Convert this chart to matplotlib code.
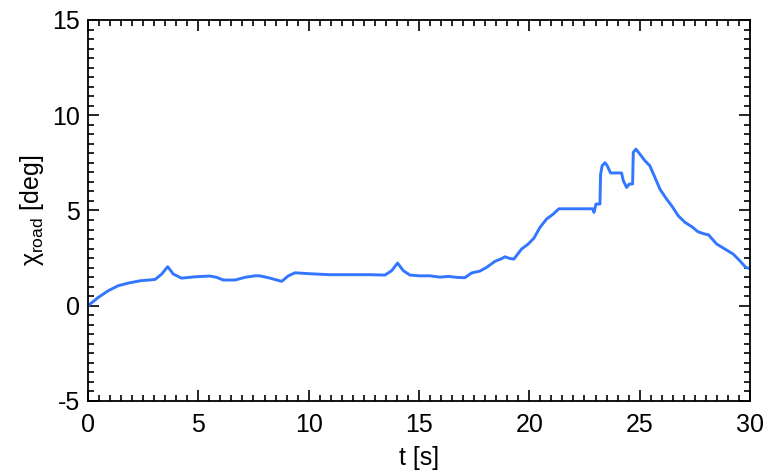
import matplotlib
matplotlib.use('Agg')
import matplotlib.pyplot as plt
from matplotlib.ticker import MultipleLocator

plt.rcParams['font.family'] = ['Liberation Sans', 'DejaVu Sans']
plt.rcParams['mathtext.fontset'] = 'custom'
plt.rcParams['mathtext.rm'] = 'Liberation Sans'
plt.rcParams['mathtext.it'] = 'Liberation Sans'
plt.rcParams['axes.unicode_minus'] = False

# time [s] and road angle [deg]
t = [0.0, 0.47, 0.92, 1.37, 1.83, 2.36, 3.04, 3.34, 3.61, 3.87, 4.24, 4.85,
     5.53, 5.83, 6.13, 6.66, 7.11, 7.57, 7.79, 8.25, 8.78, 9.08, 9.38, 10.06,
     10.96, 11.87, 12.78, 13.46, 13.76, 14.03, 14.29, 14.59, 15.04, 15.5,
     15.95, 16.33, 16.71, 17.08, 17.38, 17.76, 18.06, 18.44, 18.74, 18.89,
     19.12, 19.30, 19.65, 19.95, 20.21, 20.48, 20.78, 21.08, 21.34, 22.29,
     22.87, 22.93, 23.02, 23.2, 23.23, 23.30, 23.43, 23.53, 23.68, 24.18,
     24.26, 24.41, 24.53, 24.68, 24.71, 24.83, 25.01, 25.24, 25.46, 25.69,
     25.92, 26.22, 26.45, 26.75, 27.05, 27.35, 27.65, 27.96, 28.11, 28.49,
     28.86, 29.24, 29.54, 29.81, 30.0]
chi = [0.0, 0.44, 0.79, 1.05, 1.19, 1.31, 1.38, 1.66, 2.05, 1.66, 1.45, 1.52,
       1.56, 1.49, 1.35, 1.35, 1.49, 1.57, 1.57, 1.45, 1.28, 1.57, 1.73, 1.68,
       1.63, 1.63, 1.63, 1.61, 1.84, 2.24, 1.84, 1.61, 1.57, 1.57,
       1.50, 1.54, 1.49, 1.47, 1.72, 1.82, 2.01, 2.33, 2.47, 2.57,
       2.48, 2.45, 2.98, 3.24, 3.55, 4.11, 4.55, 4.81, 5.09, 5.09,
       5.09, 4.90, 5.34, 5.34, 6.91, 7.35, 7.51, 7.35, 6.97, 6.97,
       6.56, 6.21, 6.39, 6.39, 8.05, 8.22, 7.96, 7.61, 7.35, 6.74,
       6.12, 5.60, 5.25, 4.72, 4.38, 4.16, 3.88, 3.76, 3.73, 3.24,
       2.98, 2.71, 2.36, 2.01, 1.95]

fig = plt.figure(figsize=(7.69, 4.75), dpi=100)
ax = fig.add_axes([0.1144, 0.1558, 0.8609, 0.8021])

ax.plot(t, chi, color='#3377ff', lw=2.1, solid_joinstyle='round')

ax.set_xlim(0, 30)
ax.set_ylim(-5, 15)
ax.xaxis.set_major_locator(MultipleLocator(5))
ax.xaxis.set_minor_locator(MultipleLocator(0.5))
ax.yaxis.set_major_locator(MultipleLocator(5))
ax.yaxis.set_minor_locator(MultipleLocator(0.5))
ax.tick_params(which='both', direction='in', top=True, right=True,
               width=1.2, labelsize=18, colors='black')
ax.tick_params(which='major', length=8)
ax.tick_params(axis='x', which='major', pad=9)
ax.tick_params(axis='y', which='major', pad=6)
ax.tick_params(which='minor', length=4)
for s in ax.spines.values():
    s.set_linewidth(1.3)

ax.set_xlabel('t [s]', fontsize=18, labelpad=6)
ax.set_ylabel(r'$\chi_{\mathrm{road}}$ [deg]', fontsize=18, labelpad=4)

plt.savefig('out.png', dpi=100)
plt.close()
